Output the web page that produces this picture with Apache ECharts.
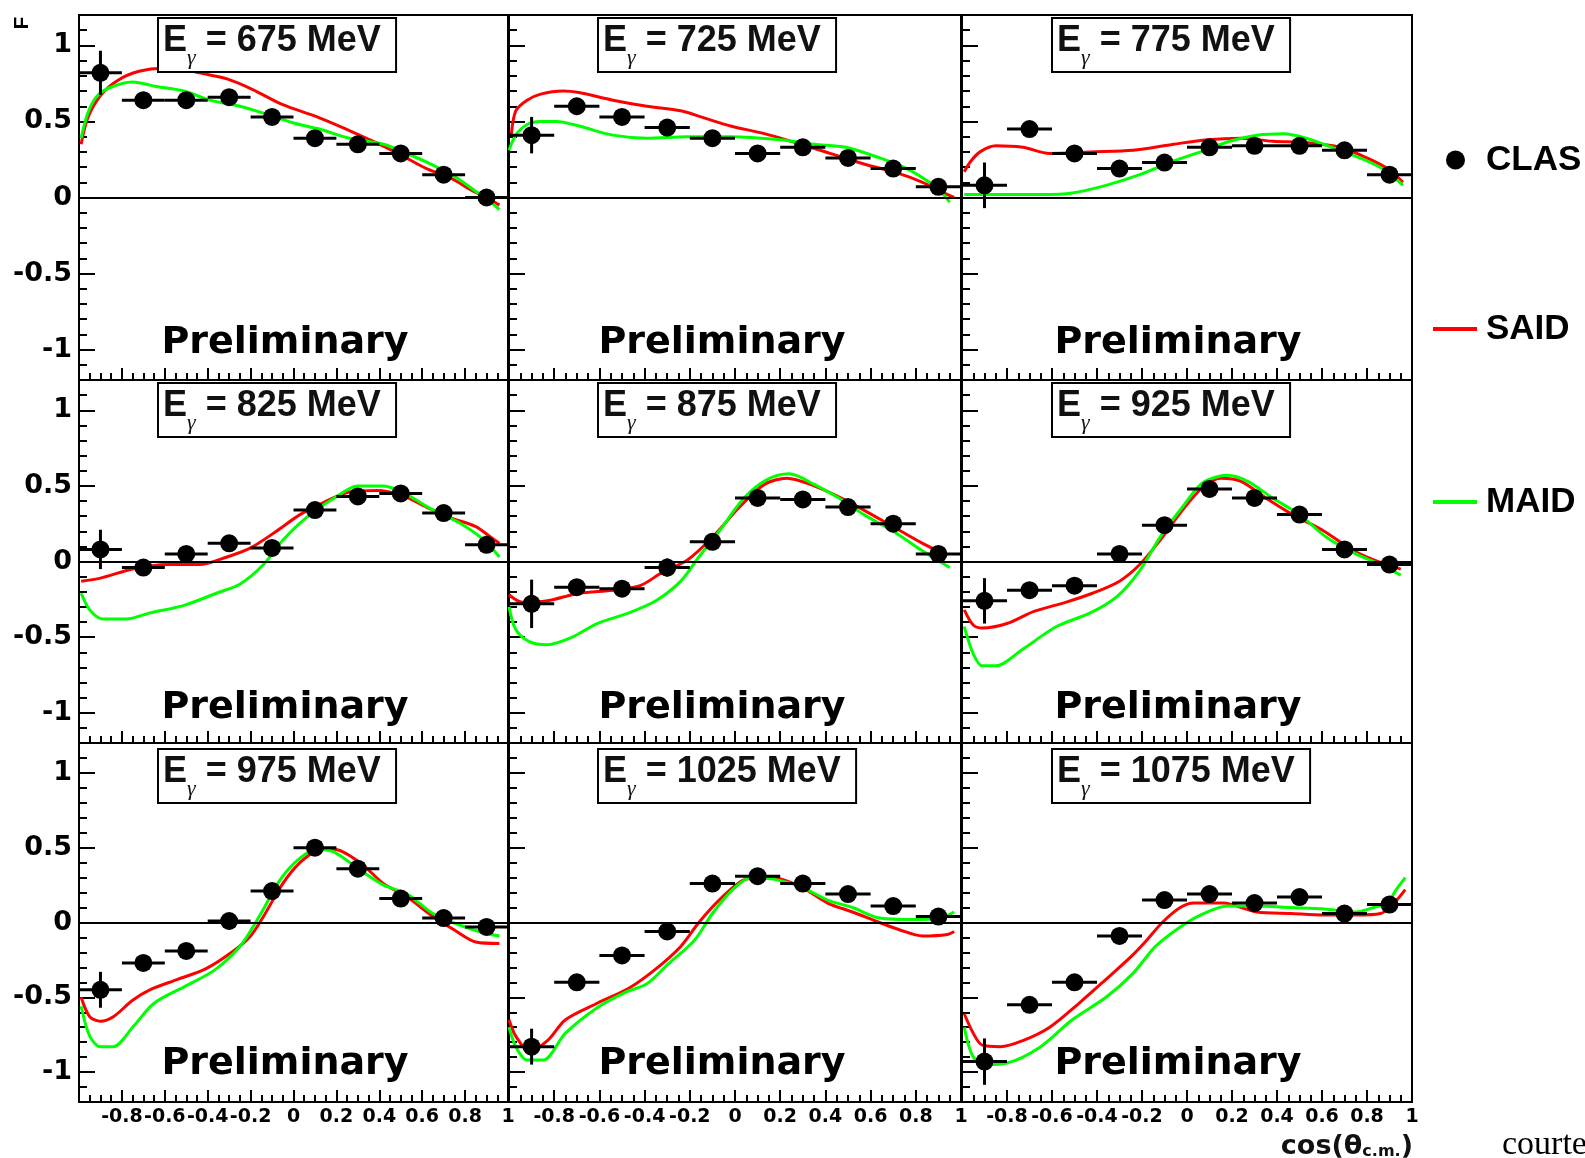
<!DOCTYPE html>
<html>
<head>
<meta charset="utf-8">
<script src="https://cdn.jsdelivr.net/npm/echarts@6.0.0/dist/echarts.min.js"></script>
<style>
  html, body { margin: 0; padding: 0; background: #fff; }
  #chart { width: 1585px; height: 1158px; }
</style>
</head>
<body>
<div id="chart"></div>
<script>
// ---- data: beam-target asymmetry F vs cos(theta_cm), nine photon energies ----
const cosBins = [-0.9, -0.7, -0.5, -0.3, -0.1, 0.1, 0.3, 0.5, 0.7, 0.9];
const binHalfWidth = 0.1;
const energies = [675, 725, 775, 825, 875, 925, 975, 1025, 1075];
const yMajorTicks = [-1, -0.5, 0, 0.5, 1];
const yMinorTicks = [-1.1, -0.9, -0.8, -0.7, -0.6, -0.4, -0.3, -0.2, -0.1,
                     0.1, 0.2, 0.3, 0.4, 0.6, 0.7, 0.8, 0.9, 1.1];

const clas675 = [0.82, 0.64, 0.64, 0.66, 0.53, 0.39, 0.35, 0.29, 0.15, 0.00];
const err675  = [0.145, 0.04, 0.03, 0.04, 0.04, 0.04, 0.03, 0.04, 0.04, 0.04];
const said675 = [[-0.99,0.35],[-0.96,0.52],[-0.90,0.67],[-0.82,0.77],[-0.72,0.83],[-0.61,0.85],[-0.53,0.85],[-0.44,0.82],[-0.31,0.78],[-0.19,0.71],[-0.05,0.61],[0.11,0.53],[0.26,0.44],[0.37,0.37],[0.50,0.28],[0.62,0.19],[0.73,0.13],[0.84,0.04],[0.90,0.00],[0.96,-0.05]];
const maid675 = [[-0.99,0.39],[-0.96,0.55],[-0.92,0.66],[-0.86,0.72],[-0.75,0.76],[-0.64,0.73],[-0.51,0.70],[-0.39,0.64],[-0.25,0.60],[-0.13,0.55],[0.00,0.49],[0.12,0.45],[0.26,0.39],[0.42,0.35],[0.51,0.30],[0.64,0.22],[0.76,0.13],[0.85,0.04],[0.92,-0.03],[0.96,-0.08]];

const clas725 = [0.41, 0.60, 0.53, 0.46, 0.39, 0.29, 0.33, 0.26, 0.19, 0.07];
const err725  = [0.12, 0.04, 0.04, 0.04, 0.03, 0.04, 0.04, 0.04, 0.04, 0.04];
const said725 = [[-0.99,0.41],[-0.97,0.57],[-0.92,0.64],[-0.86,0.68],[-0.76,0.70],[-0.69,0.69],[-0.54,0.64],[-0.39,0.60],[-0.24,0.57],[-0.13,0.52],[-0.02,0.47],[0.13,0.42],[0.27,0.36],[0.42,0.29],[0.57,0.22],[0.72,0.16],[0.83,0.10],[0.91,0.04],[0.97,0.00]];
const maid725 = [[-1.00,0.31],[-0.97,0.41],[-0.92,0.48],[-0.86,0.50],[-0.79,0.50],[-0.69,0.47],[-0.54,0.41],[-0.39,0.39],[-0.21,0.40],[-0.02,0.40],[0.20,0.38],[0.35,0.35],[0.49,0.33],[0.64,0.26],[0.76,0.19],[0.85,0.11],[0.91,0.04],[0.95,-0.03]];

const clas775 = [0.08, 0.45, 0.29, 0.19, 0.23, 0.33, 0.34, 0.34, 0.31, 0.15];
const err775  = [0.15, 0.04, 0.04, 0.04, 0.04, 0.04, 0.04, 0.04, 0.04, 0.04];
const said775 = [[-0.99,0.17],[-0.96,0.24],[-0.92,0.30],[-0.85,0.34],[-0.73,0.33],[-0.61,0.29],[-0.43,0.30],[-0.24,0.31],[-0.06,0.35],[0.09,0.38],[0.24,0.39],[0.38,0.37],[0.53,0.36],[0.68,0.33],[0.80,0.26],[0.89,0.19],[0.96,0.10]];
const maid775 = [[-0.99,0.02],[-0.88,0.02],[-0.65,0.02],[-0.51,0.03],[-0.36,0.08],[-0.21,0.15],[-0.06,0.24],[0.06,0.30],[0.19,0.37],[0.31,0.41],[0.43,0.42],[0.53,0.39],[0.68,0.31],[0.80,0.24],[0.89,0.17],[0.96,0.08]];

const clas825 = [0.08, -0.04, 0.05, 0.12, 0.09, 0.34, 0.43, 0.45, 0.32, 0.11];
const err825  = [0.13, 0.05, 0.04, 0.05, 0.05, 0.04, 0.05, 0.05, 0.04, 0.04];
const said825 = [[-0.99,-0.13],[-0.90,-0.11],[-0.75,-0.05],[-0.59,-0.02],[-0.44,-0.02],[-0.31,0.03],[-0.20,0.09],[-0.08,0.20],[0.03,0.31],[0.14,0.39],[0.26,0.46],[0.39,0.47],[0.50,0.44],[0.62,0.36],[0.73,0.29],[0.85,0.23],[0.92,0.16],[0.96,0.12]];
const maid825 = [[-0.99,-0.21],[-0.95,-0.32],[-0.89,-0.38],[-0.78,-0.38],[-0.67,-0.34],[-0.51,-0.29],[-0.36,-0.21],[-0.25,-0.15],[-0.14,-0.02],[-0.05,0.14],[0.06,0.29],[0.19,0.42],[0.30,0.50],[0.42,0.50],[0.53,0.44],[0.65,0.34],[0.78,0.25],[0.89,0.14],[0.96,0.03]];

const clas875 = [-0.28, -0.17, -0.18, -0.04, 0.13, 0.42, 0.41, 0.36, 0.25, 0.05];
const err875  = [0.16, 0.05, 0.04, 0.06, 0.05, 0.04, 0.04, 0.04, 0.05, 0.04];
const said875 = [[-1.00,-0.22],[-0.94,-0.27],[-0.83,-0.26],[-0.69,-0.21],[-0.54,-0.19],[-0.42,-0.16],[-0.32,-0.07],[-0.21,0.01],[-0.10,0.16],[0.02,0.36],[0.13,0.51],[0.23,0.55],[0.35,0.50],[0.47,0.42],[0.57,0.34],[0.70,0.23],[0.83,0.12],[0.94,0.04]];
const maid875 = [[-1.00,-0.30],[-0.97,-0.45],[-0.91,-0.53],[-0.83,-0.55],[-0.72,-0.50],[-0.61,-0.41],[-0.47,-0.34],[-0.35,-0.26],[-0.24,-0.13],[-0.16,0.03],[-0.07,0.20],[0.04,0.42],[0.14,0.54],[0.24,0.58],[0.35,0.51],[0.47,0.41],[0.57,0.31],[0.70,0.20],[0.82,0.08],[0.95,-0.04]];

const clas925 = [-0.26, -0.19, -0.16, 0.05, 0.24, 0.48, 0.42, 0.31, 0.08, -0.02];
const err925  = [0.15, 0.05, 0.05, 0.05, 0.05, 0.05, 0.04, 0.04, 0.04, 0.04];
const said925 = [[-0.99,-0.32],[-0.95,-0.42],[-0.91,-0.44],[-0.80,-0.41],[-0.68,-0.33],[-0.54,-0.27],[-0.42,-0.21],[-0.30,-0.13],[-0.21,-0.02],[-0.12,0.14],[-0.02,0.34],[0.07,0.49],[0.15,0.55],[0.24,0.53],[0.35,0.42],[0.47,0.31],[0.61,0.20],[0.73,0.08],[0.83,0.01],[0.95,-0.05]];
const maid925 = [[-0.99,-0.43],[-0.95,-0.61],[-0.91,-0.69],[-0.85,-0.69],[-0.73,-0.58],[-0.58,-0.43],[-0.43,-0.34],[-0.31,-0.23],[-0.21,-0.06],[-0.12,0.16],[-0.02,0.36],[0.07,0.52],[0.18,0.57],[0.27,0.53],[0.38,0.42],[0.50,0.31],[0.62,0.16],[0.75,0.05],[0.86,-0.02],[0.95,-0.09]];

const clas975 = [-0.45, -0.27, -0.19, 0.01, 0.21, 0.50, 0.36, 0.16, 0.03, -0.03];
const err975  = [0.12, 0.05, 0.05, 0.05, 0.05, 0.04, 0.04, 0.04, 0.04, 0.04];
const said975 = [[-0.99,-0.50],[-0.95,-0.63],[-0.90,-0.66],[-0.84,-0.63],[-0.75,-0.52],[-0.67,-0.45],[-0.54,-0.38],[-0.41,-0.31],[-0.28,-0.19],[-0.20,-0.09],[-0.14,0.04],[-0.05,0.26],[0.03,0.40],[0.11,0.48],[0.19,0.49],[0.31,0.40],[0.42,0.26],[0.53,0.17],[0.65,0.04],[0.75,-0.05],[0.85,-0.13],[0.96,-0.14]];
const maid975 = [[-0.99,-0.56],[-0.95,-0.76],[-0.90,-0.83],[-0.84,-0.83],[-0.75,-0.70],[-0.65,-0.54],[-0.51,-0.43],[-0.37,-0.32],[-0.25,-0.16],[-0.16,0.04],[-0.06,0.29],[0.03,0.43],[0.11,0.49],[0.19,0.47],[0.31,0.35],[0.42,0.25],[0.53,0.19],[0.65,0.06],[0.78,-0.02],[0.89,-0.07],[0.96,-0.09]];

const clas1025 = [-0.83, -0.40, -0.22, -0.06, 0.26, 0.31, 0.26, 0.19, 0.11, 0.04];
const err1025  = [0.12, 0.05, 0.05, 0.05, 0.05, 0.05, 0.05, 0.05, 0.05, 0.05];
const said1025 = [[-1.00,-0.65],[-0.97,-0.76],[-0.91,-0.86],[-0.83,-0.79],[-0.75,-0.65],[-0.61,-0.54],[-0.47,-0.44],[-0.35,-0.31],[-0.24,-0.16],[-0.16,0.00],[-0.07,0.15],[0.05,0.29],[0.17,0.30],[0.29,0.24],[0.41,0.13],[0.52,0.07],[0.64,0.00],[0.73,-0.05],[0.83,-0.09],[0.94,-0.08],[0.97,-0.06]];
const maid1025 = [[-1.00,-0.70],[-0.97,-0.83],[-0.92,-0.92],[-0.85,-0.92],[-0.75,-0.74],[-0.61,-0.57],[-0.49,-0.47],[-0.39,-0.41],[-0.29,-0.27],[-0.18,-0.12],[-0.10,0.06],[-0.01,0.22],[0.07,0.30],[0.17,0.29],[0.29,0.24],[0.41,0.15],[0.52,0.10],[0.64,0.03],[0.79,0.02],[0.91,0.03],[0.97,0.07]];

const clas1075 = [-0.93, -0.55, -0.40, -0.09, 0.15, 0.19, 0.13, 0.17, 0.06, 0.12];
const err1075  = [0.155, 0.05, 0.05, 0.05, 0.05, 0.05, 0.05, 0.05, 0.05, 0.05];
const said1075 = [[-0.99,-0.61],[-0.95,-0.74],[-0.91,-0.82],[-0.83,-0.83],[-0.73,-0.79],[-0.61,-0.70],[-0.48,-0.54],[-0.36,-0.38],[-0.25,-0.23],[-0.18,-0.12],[-0.11,0.00],[-0.03,0.10],[0.03,0.13],[0.16,0.13],[0.31,0.07],[0.46,0.06],[0.61,0.05],[0.75,0.05],[0.86,0.06],[0.92,0.13],[0.97,0.22]];
const maid1075 = [[-0.99,-0.70],[-0.95,-0.90],[-0.89,-0.95],[-0.80,-0.94],[-0.65,-0.83],[-0.51,-0.65],[-0.36,-0.50],[-0.24,-0.34],[-0.14,-0.16],[-0.03,-0.03],[0.06,0.05],[0.18,0.11],[0.31,0.11],[0.46,0.10],[0.61,0.09],[0.75,0.07],[0.83,0.10],[0.89,0.13],[0.93,0.22],[0.97,0.30]];

const clasSets = [clas675, clas725, clas775, clas825, clas875, clas925, clas975, clas1025, clas1075];
const errSets  = [err675, err725, err775, err825, err875, err925, err975, err1025, err1075];
const saidSets = [said675, said725, said775, said825, said875, said925, said975, said1025, said1075];
const maidSets = [maid675, maid725, maid775, maid825, maid875, maid925, maid975, maid1025, maid1075];

// ---- layout (3 x 3 pads, shared edges) ----
const colLeft = [79, 509, 962];
const colWidth = [429, 452, 450];
const rowTop = [15, 380, 743];
const rowHeight = [365, 363, 359];
const boxLeft = [159, 599, 1053];
const boxTop = [19, 384, 750];
const prelimX = [285, 722, 1178];
const prelimY = [343, 708, 1064];

const WIDE = '"DejaVu Sans", sans-serif';
const SANS = '"Liberation Sans", Arial, sans-serif';
const SERIF = '"Liberation Serif", "Times New Roman", serif';
const RED = '#ff0000';
const GREEN = '#00ff00';
const tickLine = { color: '#000', width: 2 };

const grids = [], xAxes = [], yAxes = [], series = [], graphics = [];

energies.forEach((energy, i) => {
  const r = Math.floor(i / 3), c = i % 3;
  grids.push({
    left: colLeft[c], top: rowTop[r], width: colWidth[c], height: rowHeight[r],
    show: true, borderColor: '#000', borderWidth: 2, backgroundColor: 'transparent',
    containLabel: false, outerBoundsMode: 'none'
  });
  xAxes.push({
    gridIndex: i, type: 'value', position: 'bottom', min: -1, max: 1, interval: 0.2,
    axisLine: { show: false, onZero: false }, splitLine: { show: false },
    axisTick: { inside: true, length: 12, lineStyle: tickLine },
    minorTick: { show: true, splitNumber: 4, length: 7, lineStyle: tickLine },
    minorSplitLine: { show: false },
    axisLabel: {
      show: r === 2, margin: 6, color: '#000', fontFamily: WIDE, fontWeight: 'bold', fontSize: 19,
      showMinLabel: true, showMaxLabel: true, hideOverlap: false,
      formatter: v => (v < -0.99 ? '' : String(Math.round(v * 10) / 10))
    }
  });
  // major ticks + labels
  yAxes.push({
    gridIndex: i, type: 'value', position: 'left', min: -1.2, max: 1.2,
    axisLine: { show: false, onZero: false }, splitLine: { show: false },
    axisTick: { inside: true, length: 16, lineStyle: tickLine, customValues: yMajorTicks },
    axisLabel: {
      show: c === 0, margin: 7, color: '#000', fontFamily: WIDE, fontWeight: 'bold', fontSize: 27,
      customValues: yMajorTicks, formatter: v => String(v)
    }
  });
  // minor ticks
  yAxes.push({
    gridIndex: i, type: 'value', position: 'left', min: -1.2, max: 1.2,
    axisLine: { show: false, onZero: false }, splitLine: { show: false },
    axisTick: { inside: true, length: 8, lineStyle: tickLine, customValues: yMinorTicks },
    axisLabel: { show: false }
  });

  const yIdx = 2 * i;
  const clas = clasSets[i], err = errSets[i];

  series.push({
    type: 'line', name: 'SAID', xAxisIndex: i, yAxisIndex: yIdx,
    data: saidSets[i], symbol: 'none', smooth: 0.3, clip: true, silent: true, z: 2,
    lineStyle: { color: RED, width: 3 }, itemStyle: { color: RED },
    markLine: {
      silent: true, symbol: 'none', animation: false,
      label: { show: false },
      lineStyle: { color: '#000', width: 2, type: 'solid' },
      data: [{ yAxis: 0 }]
    }
  });
  series.push({
    type: 'line', name: 'MAID', xAxisIndex: i, yAxisIndex: yIdx,
    data: maidSets[i], symbol: 'none', smooth: 0.3, clip: true, silent: true, z: 3,
    lineStyle: { color: GREEN, width: 3 }, itemStyle: { color: GREEN }
  });
  series.push({
    type: 'custom', name: 'CLAS errors', xAxisIndex: i, yAxisIndex: yIdx, z: 6, silent: true,
    data: cosBins.map((x, k) => [x, clas[k], err[k]]),
    encode: { x: 0, y: 1 },
    renderItem: (params, api) => {
      const x = api.value(0), y = api.value(1), e = api.value(2);
      const a = api.coord([x - binHalfWidth, y]);
      const b = api.coord([x + binHalfWidth, y]);
      const t = api.coord([x, y + e]);
      const d = api.coord([x, y - e]);
      const st = { stroke: '#000', lineWidth: 3 };
      return {
        type: 'group',
        children: [
          { type: 'line', shape: { x1: a[0], y1: a[1], x2: b[0], y2: b[1] }, style: st },
          { type: 'line', shape: { x1: t[0], y1: t[1], x2: d[0], y2: d[1] }, style: st }
        ]
      };
    }
  });
  series.push({
    type: 'scatter', name: 'CLAS', xAxisIndex: i, yAxisIndex: yIdx, z: 7, silent: true,
    data: cosBins.map((x, k) => [x, clas[k]]),
    symbol: 'circle', symbolSize: 18, itemStyle: { color: '#000', opacity: 1 }
  });

  // energy box
  graphics.push({
    type: 'text', x: boxLeft[c], y: boxTop[r], z: 100,
    style: {
      text: '{e|E}{g|γ}{e| = ' + energy + ' MeV}{s| }',
      align: 'left', verticalAlign: 'top',
      padding: [4, 14, 2, 4],
      backgroundColor: '#fff', borderColor: '#000', borderWidth: 2,
      rich: {
        e: { fontFamily: SANS, fontWeight: 'bold', fontSize: 36, lineHeight: 36, verticalAlign: 'top', fill: '#111' },
        g: { fontFamily: SERIF, fontStyle: 'italic', fontSize: 22, lineHeight: 32, verticalAlign: 'bottom', fill: '#111' },
        s: { fontSize: 1, lineHeight: 46 }
      }
    }
  });
  // watermark
  graphics.push({
    type: 'text', x: prelimX[c], y: prelimY[r], z: 100,
    style: {
      text: 'Preliminary', fontFamily: WIDE, fontWeight: 'bold', fontSize: 38,
      fill: '#000', align: 'center', verticalAlign: 'middle'
    }
  });
});

// axis titles and credit line
graphics.push({
  type: 'text', x: 22, y: 23, rotation: Math.PI / 2, z: 100,
  style: { text: 'F', fontFamily: SANS, fontWeight: 'bold', fontSize: 21, fill: '#000', align: 'center', verticalAlign: 'middle' }
});
graphics.push({
  type: 'text', x: 1413, y: 1133, z: 100,
  style: {
    text: '{a|cos(θ}{b|c.m.}{a|)}', align: 'right', verticalAlign: 'top',
    rich: {
      a: { fontFamily: WIDE, fontWeight: 'bold', fontSize: 27, lineHeight: 27, verticalAlign: 'top', fill: '#111' },
      b: { fontFamily: WIDE, fontWeight: 'bold', fontSize: 16, lineHeight: 16, verticalAlign: 'bottom', fill: '#111' }
    }
  }
});
graphics.push({
  type: 'text', x: 1502, y: 1145, z: 100,
  style: { text: 'courtesy', fontFamily: SERIF, fontSize: 34, fill: '#000', align: 'left', verticalAlign: 'middle' }
});

const legendBase = {
  orient: 'vertical', padding: 0, itemGap: 0, selectedMode: false,
  textStyle: { fontFamily: SANS, fontWeight: 'bold', fontSize: 35, lineHeight: 38, color: '#000' }
};

const option = {
  animation: false,
  backgroundColor: '#fff',
  grid: grids,
  xAxis: xAxes,
  yAxis: yAxes,
  series: series,
  graphic: graphics,
  legend: [
    Object.assign({}, legendBase, {
      left: 1446, top: 141, itemWidth: 19, itemHeight: 19,
      data: [{ name: 'CLAS', icon: 'circle', itemStyle: { color: '#000', opacity: 1 } }],
      textStyle: Object.assign({}, legendBase.textStyle, { padding: [0, 0, 0, 16] })
    }),
    Object.assign({}, legendBase, {
      left: 1433, top: 310, itemWidth: 44, itemHeight: 4,
      data: [{ name: 'SAID', icon: 'rect', itemStyle: { color: RED } }],
      textStyle: Object.assign({}, legendBase.textStyle, { padding: [0, 0, 0, 4] })
    }),
    Object.assign({}, legendBase, {
      left: 1433, top: 483, itemWidth: 44, itemHeight: 4,
      data: [{ name: 'MAID', icon: 'rect', itemStyle: { color: GREEN } }],
      textStyle: Object.assign({}, legendBase.textStyle, { padding: [0, 0, 0, 4] })
    })
  ]
};

const chart = echarts.init(document.getElementById('chart'), null, { renderer: 'canvas' });
chart.setOption(option);
</script>
</body>
</html>
